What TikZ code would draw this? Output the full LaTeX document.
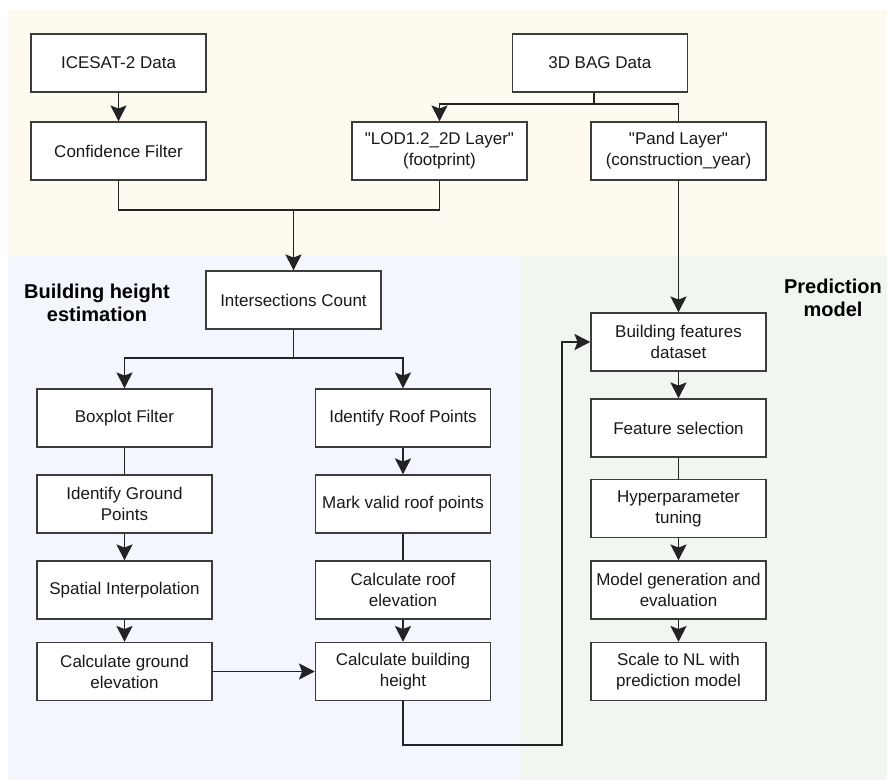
\documentclass[tikz,border=0pt]{standalone}
\usepackage{fontspec}
\setmainfont{Liberation Sans}[Ligatures=TeXOff]
\usetikzlibrary{arrows.meta,calc}
\definecolor{bgtop}{RGB}{255,250,240}
\definecolor{bgleft}{RGB}{243,246,253}
\definecolor{bgright}{RGB}{241,247,240}
\definecolor{edge}{RGB}{60,60,60}
\definecolor{wire}{RGB}{35,35,35}
\tikzset{
  stepbox/.style={draw=edge, line width=1.5pt, fill=white, minimum width=175pt, minimum height=58pt,
    align=center, inner sep=1pt, font=\fontsize{17}{21}\selectfont, text=black!90},
  wire/.style={draw=wire, line width=1.6pt},
  arr/.style={draw=wire, line width=1.6pt, -{Stealth[inset=2pt, angle'=54, scale=1.55]}},
  title/.style={align=center, font=\fontsize{20}{23}\selectfont\bfseries}
}
\begin{document}
\begin{tikzpicture}[x=1pt,y=-1pt]
\useasboundingbox (0,0) rectangle (887,780);
\fill[white] (0,0) rectangle (887,780);
\fill[bgtop] (8,10) rectangle (887,256);
\fill[bgleft] (8,256) rectangle (520,780);
\fill[bgright] (520,256) rectangle (887,780);

\node[stepbox] (ice) at (118.5,63) {ICESAT-2 Data};
\node[stepbox] (conf) at (118.5,151) {Confidence Filter};
\node[stepbox] (bag) at (599.8,63) {3D BAG Data};
\node[stepbox] (lod) at (439.5,151) {"LOD1.2\_2D Layer"\\(footprint)};
\node[stepbox] (pand) at (678.5,151) {"Pand Layer"\\(construction\_year)};
\node[stepbox] (ic) at (293.5,300) {Intersections Count};
\node[stepbox] (box) at (124.5,418) {Boxplot Filter};
\node[stepbox] (roof) at (403,418) {Identify Roof Points};
\node[stepbox] (ground) at (124.5,504) {Identify Ground\\Points};
\node[stepbox] (mark) at (403,504) {Mark valid roof points};
\node[stepbox] (spat) at (124.5,590) {Spatial Interpolation};
\node[stepbox] (croof) at (403,590) {Calculate roof\\elevation};
\node[stepbox] (cground) at (124.5,671.5) {Calculate ground\\elevation};
\node[stepbox] (cbuild) at (403,671.5) {Calculate building\\height};
\node[stepbox] (bf) at (678.5,342) {Building features\\dataset};
\node[stepbox] (fs) at (678.5,428) {Feature selection};
\node[stepbox] (ht) at (678.5,508.5) {Hyperparameter\\tuning};
\node[stepbox] (mg) at (678.5,590) {Model generation and\\evaluation};
\node[stepbox] (nl) at (678.5,671.5) {Scale to NL with\\prediction model};

\node[title] (t1) at (97,303) {Building height\\estimation};
\node[title] (t2) at (833,298) {Prediction\\model};

\coordinate (bj) at (594,104);
\coordinate (mj) at (293.5,210);
\coordinate (ij) at (293.5,358);
\coordinate (lp) at (562,745);

\draw[arr] (ice) -- (conf);
\draw[wire] (bag.south -| bj) -- (bj);
\draw[arr] (bj) -| (lod.north);
\draw[wire] (bj) -| (pand.north);
\draw[wire] (conf.south) |- (mj);
\draw[wire] (lod.south) |- (mj);
\draw[arr] (mj) -- (ic.north);
\draw[wire] (ic.south) -- (ij);
\draw[arr] (ij) -| (box.north);
\draw[arr] (ij) -| (roof.north);
\draw[wire] (box) -- (ground);
\draw[arr] (roof) -- (mark);
\draw[arr] (ground) -- (spat);
\draw[wire] (mark) -- (croof);
\draw[arr] (spat) -- (cground);
\draw[arr] (croof) -- (cbuild);
\draw[arr] (cground) -- (cbuild);
\draw[arr] (cbuild.south) |- (lp) |- (bf.west);
\draw[arr] (pand) -- (bf);
\draw[arr] (bf) -- (fs);
\draw[wire] (fs) -- (ht);
\draw[arr] (ht) -- (mg);
\draw[arr] (mg) -- (nl);
\end{tikzpicture}
\end{document}
